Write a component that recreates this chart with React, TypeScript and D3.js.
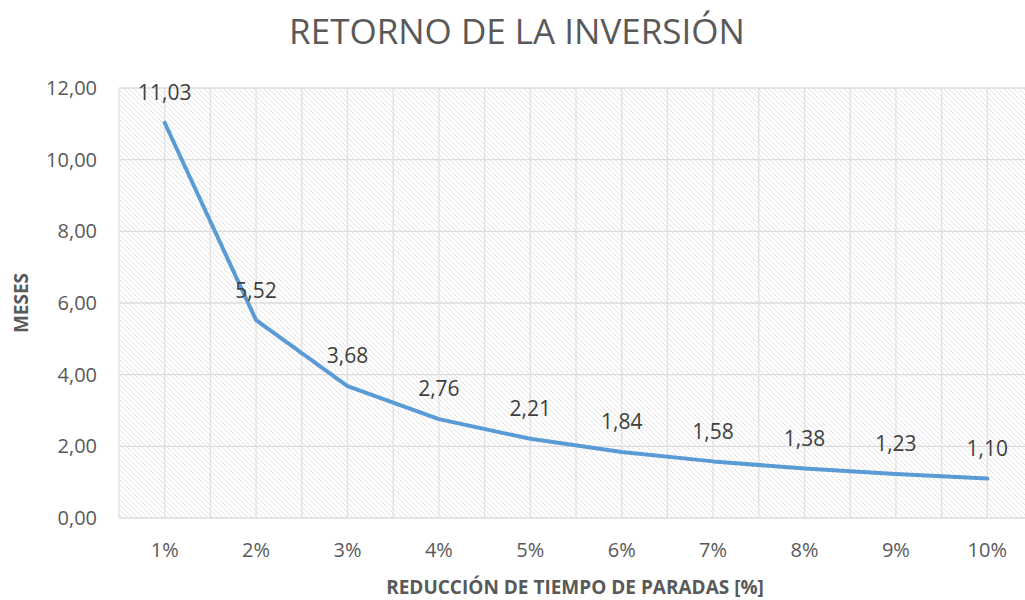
import * as d3 from 'd3';
import React, { useEffect, useRef } from 'react';

const categories = ['1%', '2%', '3%', '4%', '5%', '6%', '7%', '8%', '9%', '10%'];
const meses = [11.03, 5.52, 3.68, 2.76, 2.21, 1.84, 1.58, 1.38, 1.23, 1.1];
const yTicks = [0, 2, 4, 6, 8, 10, 12];

const fmt = (v: number) => d3.format('.2f')(v).replace('.', ',');

export default function App() {
    const ref = useRef<SVGSVGElement>(null);

    useEffect(() => {
        const width = 1025;
        const height = 600;
        const margin = { top: 88, right: -8, bottom: 82, left: 119 };
        const font = "'Open Sans', 'Noto Sans', sans-serif";

        const svg = d3.select(ref.current);
        svg.selectAll('*').remove();

        // Hatch fill for plot area
        const defs = svg.append('defs');
        const pat = defs.append('pattern')
            .attr('id', 'hatch')
            .attr('patternUnits', 'userSpaceOnUse')
            .attr('width', 5)
            .attr('height', 5);
        pat.append('rect').attr('width', 5).attr('height', 5).attr('fill', '#fff');
        pat.append('path')
            .attr('d', 'M0,0 L5,5 M-1,4 L1,6 M4,-1 L6,1')
            .attr('stroke', '#e2e2e2')
            .attr('stroke-width', 1);

        const x = d3.scaleBand()
            .domain(categories)
            .range([margin.left, width - margin.right]);
        const y = d3.scaleLinear()
            .domain([0, 12])
            .range([height - margin.bottom, margin.top]);

        svg.append('rect')
            .attr('x', margin.left)
            .attr('y', margin.top)
            .attr('width', width - margin.right - margin.left)
            .attr('height', height - margin.bottom - margin.top)
            .attr('fill', 'url(#hatch)');

        // Vertical gridlines at band edges and centers
        const vLines: number[] = [];
        categories.forEach(c => {
            vLines.push(x(c)!);
            vLines.push(x(c)! + x.bandwidth() / 2);
        });
        svg.append('g').selectAll('line')
            .data(vLines)
            .enter()
            .append('line')
            .attr('x1', d => d).attr('x2', d => d)
            .attr('y1', margin.top).attr('y2', height - margin.bottom)
            .attr('stroke', '#e0e0e0')
            .attr('stroke-width', 1.3);

        // Horizontal gridlines
        svg.append('g').selectAll('line')
            .data(yTicks)
            .enter()
            .append('line')
            .attr('x1', margin.left).attr('x2', width - margin.right)
            .attr('y1', d => y(d)).attr('y2', d => y(d))
            .attr('stroke', '#dcdcdc')
            .attr('stroke-width', d => d === 0 ? 1.6 : 1.3);

        // Y tick labels
        svg.append('g').selectAll('text')
            .data(yTicks)
            .enter()
            .append('text')
            .attr('x', 97)
            .attr('y', d => y(d))
            .attr('dy', '0.35em')
            .attr('text-anchor', 'end')
            .style('font-family', font)
            .style('font-size', '20px')
            .style('fill', '#595959')
            .text(d => fmt(d));

        // X tick labels
        svg.append('g').selectAll('text')
            .data(categories)
            .enter()
            .append('text')
            .attr('x', d => x(d)! + x.bandwidth() / 2)
            .attr('y', 550)
            .attr('dy', '0.35em')
            .attr('text-anchor', 'middle')
            .style('font-family', font)
            .style('font-size', '20px')
            .style('fill', '#595959')
            .text(d => d);

        // Line
        const line = d3.line<number>()
            .x((d, i) => x(categories[i])! + x.bandwidth() / 2)
            .y(d => y(d));
        svg.append('path')
            .datum(meses)
            .attr('d', line)
            .attr('fill', 'none')
            .attr('stroke', '#5b9bd5')
            .attr('stroke-width', 4)
            .attr('stroke-linecap', 'round')
            .attr('stroke-linejoin', 'round');

        // Data labels
        svg.append('g').selectAll('text')
            .data(meses)
            .enter()
            .append('text')
            .attr('x', (d, i) => x(categories[i])! + x.bandwidth() / 2)
            .attr('y', d => y(d) - 30)
            .attr('dy', '0.35em')
            .attr('text-anchor', 'middle')
            .style('font-family', font)
            .style('font-size', '21px')
            .style('fill', '#404040')
            .text(d => fmt(d));

        // Title
        svg.append('text')
            .attr('x', 517)
            .attr('y', 32)
            .attr('dy', '0.35em')
            .attr('text-anchor', 'middle')
            .style('font-family', font)
            .style('font-size', '35px')
            .style('fill', '#595959')
            .text('RETORNO DE LA INVERSIÓN');

        // Axis titles
        svg.append('text')
            .attr('x', 575)
            .attr('y', 587)
            .attr('dy', '0.35em')
            .attr('text-anchor', 'middle')
            .style('font-family', font)
            .style('font-size', '19px')
            .style('font-weight', 'bold')
            .style('fill', '#595959')
            .text('REDUCCIÓN DE TIEMPO DE PARADAS [%]');

        svg.append('text')
            .attr('transform', 'translate(21,303) rotate(-90)')
            .attr('dy', '0.35em')
            .attr('text-anchor', 'middle')
            .style('font-family', font)
            .style('font-size', '19px')
            .style('font-weight', 'bold')
            .style('fill', '#595959')
            .text('MESES');
    }, []);

    return (
        <svg ref={ref} width={1025} height={600}
            style={{ position: 'absolute', left: 0, top: 0, background: '#fff' }} />
    );
}
